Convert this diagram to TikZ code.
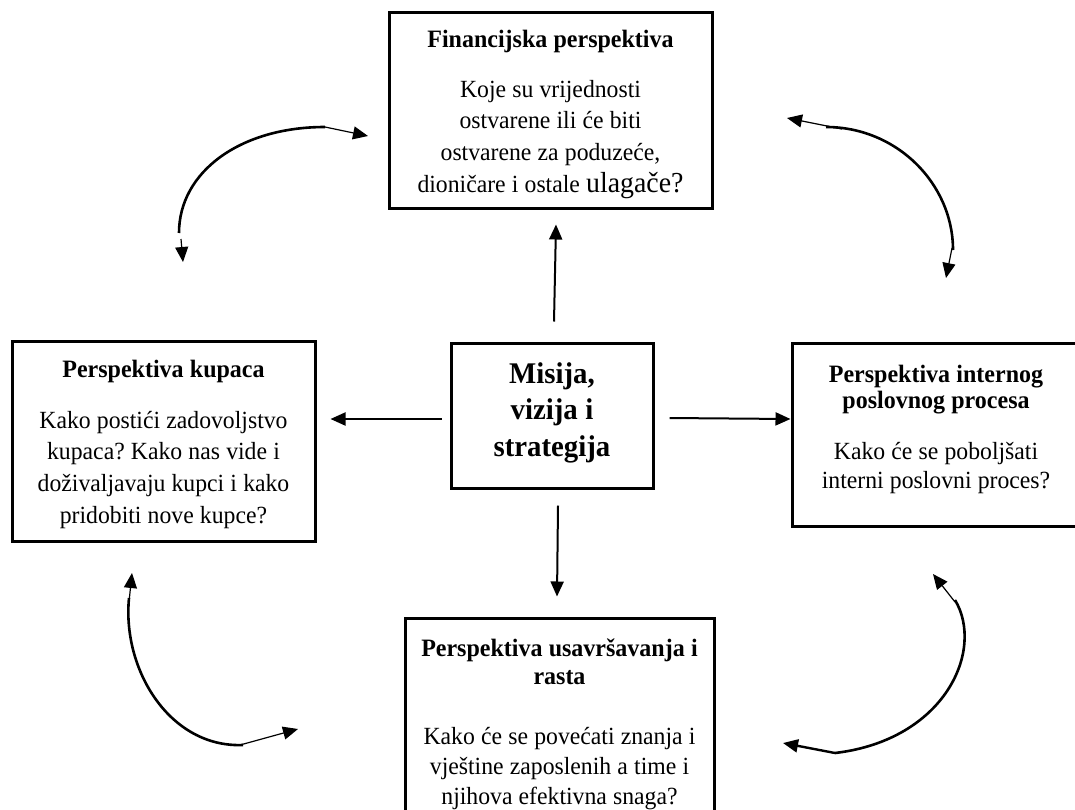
\documentclass[tikz,border=0pt]{standalone}
\usepackage{fontspec}
\setmainfont{Liberation Serif}[FakeStretch=0.96]
\usetikzlibrary{arrows.meta,calc}
\newcommand{\fixsp}{\spaceskip=.25em plus .02em\relax\xspaceskip=\spaceskip\frenchspacing\centering}
\newcommand{\titlef}[1]{\fontsize{25}{#1}\selectfont\bfseries\fixsp}
\newcommand{\bodyf}[1]{\fontsize{24.7}{#1}\selectfont\fixsp}
\newcommand{\bigf}{\fontsize{29}{31.7}\selectfont}
\begin{document}
\begin{tikzpicture}[x=1pt,y=-1pt,
  box/.style={draw, line width=3pt, rectangle, inner sep=0pt},
  txt/.style={align=center, inner sep=0pt, anchor=base},
  arr/.style={line width=2pt, -{Triangle[length=15pt,width=13pt]}},
  curvearc/.style={line width=2.6pt},
  thinarr/.style={line width=1.2pt, -{Triangle[length=15pt,width=13pt]}},
  thickarr/.style={line width=2.4pt, -{Triangle[length=15pt,width=13pt]}}]
\useasboundingbox (0,0) rectangle (1075,809);
\clip (0,0) rectangle (1075,809);
\fill[white] (0,0) rectangle (1075,809);

% boxes
\node[box, minimum width=323pt, minimum height=196pt] (fin) at (550.5,110) {};
\node[box, minimum width=202pt, minimum height=145pt] (ctr) at (552,415.5) {};
\node[box, minimum width=303pt, minimum height=200pt] (kup) at (163.5,441) {};
\node[box, minimum width=288pt, minimum height=183pt] (int) at (936,434.5) {};
\node[box, minimum width=309pt, minimum height=240pt] (usa) at (559.5,738) {};

% texts
\node[txt, text width=315pt] (fint) at (fin.center |- 0,47)
  {{\titlef{26}Financijska perspektiva\par}\vspace{18.3pt}%
   {\bodyf{31.7}Koje su vrijednosti\\ ostvarene ili će biti\\ ostvarene za poduzeće,\\ dioničare i ostale {\bigf ulagače?}\par}};
\node[txt, text width=195pt] (ctrt) at (ctr.center |- 0,383)
  {\fontsize{30}{36.5}\selectfont\bfseries\fixsp Misija,\\ vizija i\\ strategija\par};
\node[txt, text width=295pt] (kupt) at (kup.center |- 0,377)
  {{\titlef{26}Perspektiva kupaca\par}\vspace{19.3pt}%
   {\bodyf{31.7}Kako postići zadovoljstvo\\ kupaca? Kako nas vide i\\ doživaljavaju kupci i kako\\ pridobiti nove kupce?\par}};
\node[txt, text width=280pt] (intt) at (int.center |- 0,382)
  {{\titlef{26}Perspektiva internog\\ poslovnog procesa\par}\vspace{22pt}%
   {\bodyf{29}Kako će se poboljšati\\ interni poslovni proces?\par}};
\node[txt, text width=300pt] (usat) at (usa.center |- 0,656)
  {{\titlef{28}Perspektiva usavršavanja i\\ rasta\par}\vspace{30pt}%
   {\bodyf{30}Kako će se povećati znanja i\\ vještine zaposlenih a time i\\ njihova efektivna snaga?\par}};

% straight arrows from the centre
\draw[arr] ($(ctr.north)+(2,-20)$) -- ($(fin.south)+(5.5,15)$);
\draw[arr] ($(ctr.west)+(-8,3.5)$) -- ($(kup.east |- ctr.west)+(14,3.5)$);
\draw[arr] ($(ctr.east)+(15,2.5)$) -- ($(int.west |- ctr.east)+(0,3.5)$);
\draw[arr] ($(ctr.south)+(6,16)$) -- ($(usa.north)+(-2.5,-20)$);

% curved arrows
% top left
\coordinate (a1) at (179,233);
\coordinate (a2) at (325,127);
\coordinate (a1t) at (183,262);
\coordinate (a2t) at (368,136);
\draw[curvearc] (a1) .. controls (179,172) and (240,127) .. (a2);
\draw[thinarr] (a2) -- (a2t);
\draw[thinarr] ($(a1)+(2,6)$) -- (a1t);

% top right
\coordinate (b1) at (826,127);
\coordinate (b2) at (953,250);
\coordinate (b1t) at (787,118);
\coordinate (b2t) at (946,278);
\draw[curvearc] (b1) .. controls (897,127) and (953,184) .. (b2);
\draw[thinarr] ($(b1)+(16,2)$) -- (b1t);
\draw[thinarr] ($(b2)+(-1,-2)$) -- (b2t);

% bottom left
\coordinate (c1) at (129,598);
\coordinate (c2) at (243,745);
\coordinate (c1t) at (132,573);
\coordinate (c2t) at (298,729);
\draw[curvearc] (c1) .. controls (122,670) and (170,748) .. (c2);
\draw[thinarr] ($(c1)+(0,4)$) -- (c1t);
\draw[thinarr] ($(c2)+(-3,0)$) -- (c2t);

% bottom right
\coordinate (d1) at (955,600);
\coordinate (d2) at (835,753);
\coordinate (d1t) at (933,574);
\coordinate (d2t) at (783,743);
\draw[curvearc] (d1) .. controls (985,650) and (945,740) .. (d2);
\draw[thinarr] ($(d1)+(0,2)$) -- (d1t);
\draw[thickarr] (d2) -- (d2t);
\end{tikzpicture}
\end{document}
